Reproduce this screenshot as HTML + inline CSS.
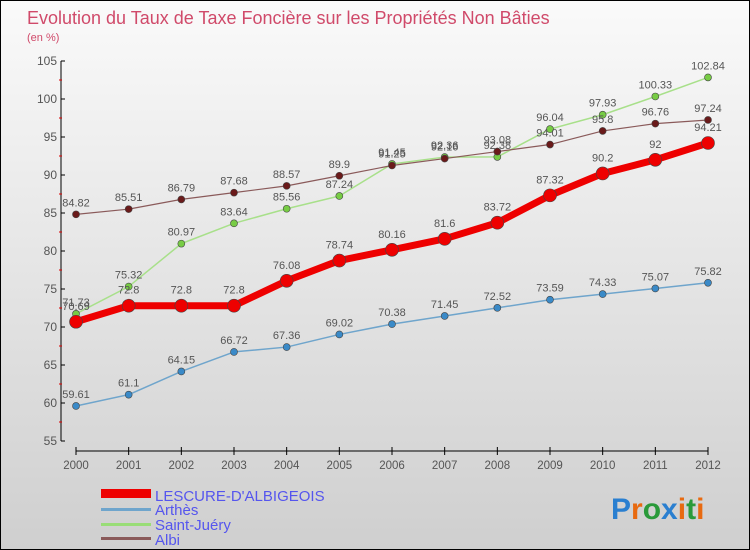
<!DOCTYPE html>
<html><head><meta charset="utf-8"><style>
body{margin:0}
#c{width:750px;height:550px;position:relative;box-sizing:border-box;border:1px solid #000;background:linear-gradient(#fafafa,#cfcfcf);font-family:"Liberation Sans",sans-serif;overflow:hidden}
svg text{font-family:"Liberation Sans",sans-serif}
</style></head><body>
<div id="c">
<svg id="s" width="750" height="550" style="position:absolute;left:0;top:0">
<text x="26" y="23" font-size="18" font-weight="300" fill="#d04a6a">Evolution du Taux de Taxe Foncière sur les Propriétés Non Bâties</text>
<text x="26" y="40" font-size="11" fill="#d04a6a">(en %)</text>
<g id="axes"></g><g id="series"></g>
<g>
<rect x="100" y="488" width="50" height="9" fill="#e00"/>
<text x="154" y="500" font-size="15" fill="#5555ee">LESCURE-D'ALBIGEOIS</text>
<rect x="100" y="507" width="50" height="3" fill="#6fa5cc"/>
<text x="154" y="514" font-size="15" fill="#5555ee">Arthès</text>
<rect x="100" y="522" width="50" height="3" fill="#99dd77"/>
<text x="154" y="529" font-size="15" fill="#5555ee">Saint-Juéry</text>
<rect x="100" y="536" width="50" height="3" fill="#8a5a5a"/>
<text x="154" y="544" font-size="15" fill="#5555ee">Albi</text>
</g>
<text x="610" y="518" font-size="30" font-weight="bold"><tspan fill="#2a7fd0">P</tspan><tspan fill="#e86a10">r</tspan><tspan fill="#2a9a3a">o</tspan><tspan fill="#2a7fd0">x</tspan><tspan fill="#e86a10">i</tspan><tspan fill="#2a9a3a">t</tspan><tspan fill="#e86a10">i</tspan></text>
</svg>
</div>
<script>
const years=[2000,2001,2002,2003,2004,2005,2006,2007,2008,2009,2010,2011,2012];
const lescure=[70.69,72.8,72.8,72.8,76.08,78.74,80.16,81.6,83.72,87.32,90.2,92,94.21];
const arthes=[59.61,61.1,64.15,66.72,67.36,69.02,70.38,71.45,72.52,73.59,74.33,75.07,75.82];
const saintJuery=[71.73,75.32,80.97,83.64,85.56,87.24,91.45,92.36,92.38,96.04,97.93,100.33,102.84];
const albi=[84.82,85.51,86.79,87.68,88.57,89.9,91.25,92.16,93.08,94.01,95.8,96.76,97.24];
const yTicks=[55,60,65,70,75,80,85,90,95,100,105];
const NS="http://www.w3.org/2000/svg";
const X=i=>75+i*(707-75)/(years.length-1);
const Y=v=>440-(v-55)*(380/50);
function mk(t,a,p){const e=document.createElementNS(NS,t);for(const k in a)e.setAttribute(k,a[k]);p.appendChild(e);return e;}
const ax=document.getElementById('axes');
const yl=mk('line',{x1:60,y1:60,x2:60,y2:440,stroke:'#000'},ax);


yTicks.forEach((v,i)=>{
 mk('line',{x1:60,y1:Y(v),x2:64,y2:Y(v),stroke:'#000'},ax);
 if(i<yTicks.length-1)mk('line',{x1:58,y1:Y(v+2.5),x2:61,y2:Y(v+2.5),stroke:'#d00'},ax);
 const t=mk('text',{x:56,y:Y(v)+4,'text-anchor':'end','font-size':12,fill:'#555'},ax);t.textContent=v;
 
 
});
const xl=mk('line',{x1:75,y1:450,x2:707,y2:450,stroke:'#000'},ax);


years.forEach((y,i)=>{
 mk('line',{x1:X(i),y1:446,x2:X(i),y2:454,stroke:'#000'},ax);
 const t=mk('text',{x:X(i),y:468,'text-anchor':'middle','font-size':11.5,fill:'#555'},ax);t.textContent=y;
 
 
});
const sg=document.getElementById('series');
function draw(data,name,color,dot,w,r,lab){
 const g=mk('g',{},sg);
 
 
 const pl=mk('polyline',{points:data.map((v,i)=>X(i)+','+Y(v)).join(' '),fill:'none',stroke:color,'stroke-width':w,'stroke-linejoin':'round'},g);
 
 
 data.forEach((v,i)=>{
  const c=mk('circle',{cx:X(i),cy:Y(v),r:r,fill:dot,stroke:'#444','stroke-width':0.6},g);
  
  
  const t=mk('text',{x:X(i),y:Y(v)-lab,'text-anchor':'middle','font-size':11,fill:'#555'},g);t.textContent=v;
  
  
 });
}
draw(arthes,'arthes','#6fa5cc','#3a8ac8',1.5,3.5,8);
draw(saintJuery,'saint-juery','#a8e08a','#77cc44',1.5,3.5,8);
draw(albi,'albi','#8a5a5a','#6a1a1a',1.2,3.5,8);
draw(lescure,'lescure','#ee0000','#ee0000',7,6.5,12);
</script>
</body></html>
